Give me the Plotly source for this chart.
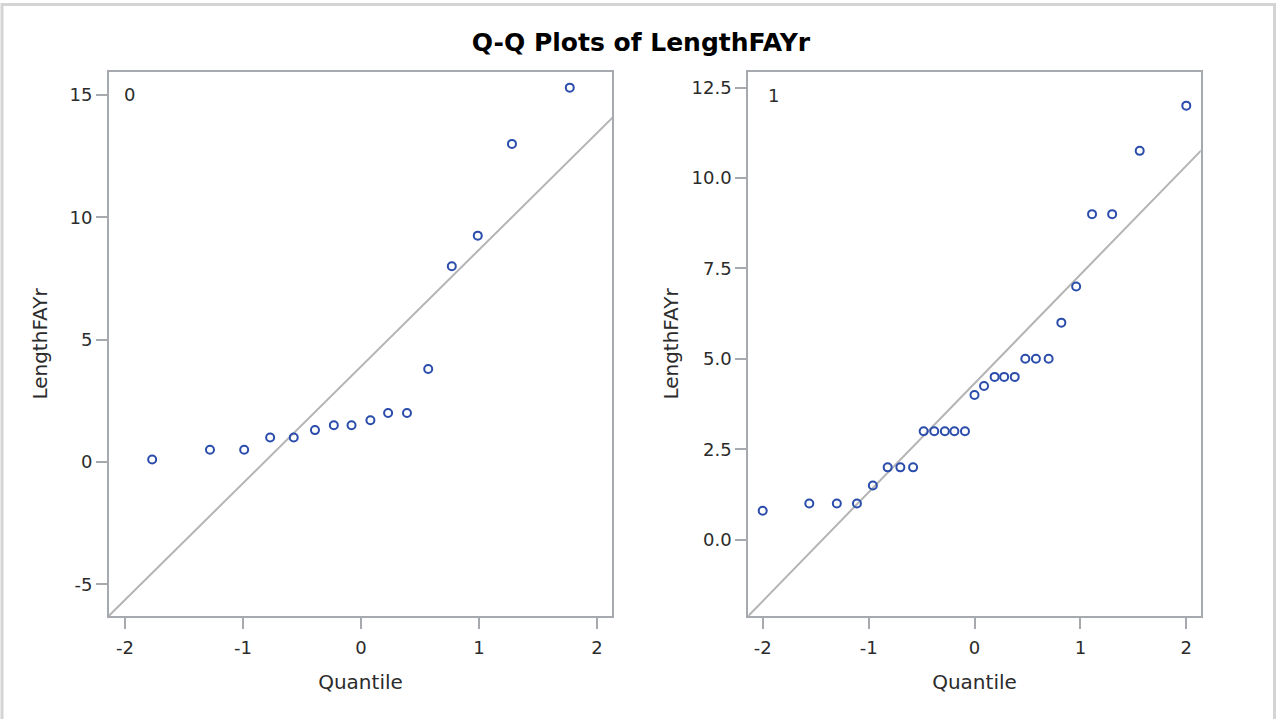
import plotly.graph_objects as go
from plotly.subplots import make_subplots

# group 0
q0 = [-1.77, -1.28, -0.99, -0.77, -0.57, -0.39, -0.23, -0.08,
      0.08, 0.23, 0.39, 0.57, 0.77, 0.99, 1.28, 1.77]
len0 = [0.1, 0.5, 0.5, 1.0, 1.0, 1.3, 1.5, 1.5,
        1.7, 2.0, 2.0, 3.8, 8.0, 9.25, 13.0, 15.3]
mu0, sigma0 = 3.90, 4.77

# group 1
q1 = [-2.00, -1.56, -1.30, -1.11, -0.96, -0.82, -0.70, -0.58, -0.48,
      -0.38, -0.28, -0.19, -0.09, 0.00, 0.09, 0.19, 0.28, 0.38,
      0.48, 0.58, 0.70, 0.82, 0.96, 1.11, 1.30, 1.56, 2.00]
len1 = [0.8, 1.0, 1.0, 1.0, 1.5, 2.0, 2.0, 2.0, 3.0,
        3.0, 3.0, 3.0, 3.0, 4.0, 4.25, 4.5, 4.5, 4.5,
        5.0, 5.0, 5.0, 6.0, 7.0, 9.0, 9.0, 10.75, 12.0]
mu1, sigma1 = 4.32, 3.01

x_ticks = [-2, -1, 0, 1, 2]
y0_ticks = [-5, 0, 5, 10, 15]
y1_ticks = [0, 2.5, 5, 7.5, 10, 12.5]

W, H = 1276, 719
MARKER = "#2a4cab"
REF_LINE = "#b4b4b4"
FRAME = "#a6aaae"
TEXT = "#2b2b2b"
FONT = "DejaVu Sans"


def px_x(p):
    return p / W


def px_y(p):
    return 1 - p / H


def tick_text(vals, fmt="{:g}"):
    # plain hyphen for negatives, like the original
    return [fmt.format(v) for v in vals]


fig = make_subplots(rows=1, cols=2)

for col, (q, v, mu, sd) in enumerate(
    [(q0, len0, mu0, sigma0), (q1, len1, mu1, sigma1)], start=1
):
    ends = [-3, 3]
    fig.add_trace(
        go.Scatter(
            x=ends,
            y=[mu + sd * e for e in ends],
            mode="lines",
            line=dict(color=REF_LINE, width=2),
            hoverinfo="skip",
            showlegend=False,
        ),
        row=1,
        col=col,
    )
    fig.add_trace(
        go.Scatter(
            x=q,
            y=v,
            mode="markers",
            marker=dict(
                symbol="circle-open", size=8, color=MARKER, line=dict(width=2, color=MARKER)
            ),
            showlegend=False,
        ),
        row=1,
        col=col,
    )

axis_common = dict(
    showline=True,
    mirror=True,
    linecolor=FRAME,
    linewidth=2,
    showgrid=False,
    zeroline=False,
    ticks="outside",
    ticklen=11,
    tickwidth=1.5,
    tickcolor=FRAME,
    tickfont=dict(family=FONT, size=18, color=TEXT),
    title_font=dict(family=FONT, size=20, color=TEXT),
)

fig.update_xaxes(
    **axis_common,
    tickvals=x_ticks,
    ticktext=tick_text(x_ticks),
    ticklabelstandoff=3,
    title_text="Quantile",
    title_standoff=18,
)
fig.update_yaxes(**axis_common, title_text="LengthFAYr")

fig.update_layout(
    xaxis=dict(domain=[px_x(109), px_x(612)], range=[-2.136, 2.128]),
    xaxis2=dict(domain=[px_x(748.3), px_x(1200.7)], range=[-2.136, 2.136]),
    yaxis=dict(
        domain=[px_y(616), px_y(72)],
        range=[-6.30, 15.94],
        tickvals=y0_ticks,
        ticktext=tick_text(y0_ticks),
        title_standoff=16,
    ),
    yaxis2=dict(
        domain=[px_y(616), px_y(72)],
        range=[-2.11, 12.93],
        tickvals=y1_ticks,
        ticktext=tick_text(y1_ticks, "{:.1f}"),
        title_standoff=8,
    ),
    width=W,
    height=H,
    margin=dict(l=0, r=0, t=0, b=0),
    plot_bgcolor="white",
    paper_bgcolor="white",
    title=dict(
        text="<b>Q-Q Plots of LengthFAYr</b>",
        x=px_x(641),
        y=px_y(42),
        xanchor="center",
        yanchor="middle",
        font=dict(family=FONT, size=25, color="black"),
    ),
)

for label, xp, yp in [("0", 129, 94), ("1", 773, 95)]:
    fig.add_annotation(
        text=label,
        x=px_x(xp),
        y=px_y(yp),
        xref="paper",
        yref="paper",
        showarrow=False,
        xanchor="center",
        yanchor="middle",
        font=dict(family=FONT, size=18, color=TEXT),
    )

# light frame around the whole graph
fig.add_shape(
    type="rect",
    xref="paper",
    yref="paper",
    x0=px_x(2),
    x1=px_x(1274.5),
    y0=-0.05,
    y1=px_y(4.5),
    line=dict(color="#d4d4d4", width=3),
    layer="below",
)

fig.write_html(
    "out.html",
    config={"displayModeBar": False},
    post_script="document.body.style.margin='0';document.body.style.overflow='hidden';",
)
